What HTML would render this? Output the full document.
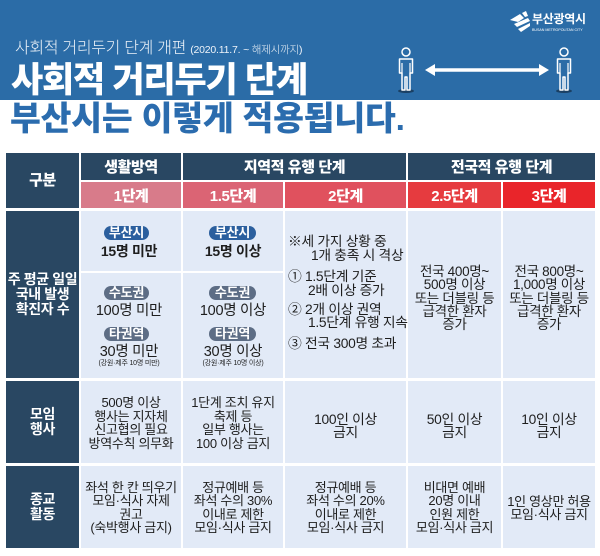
<!DOCTYPE html>
<html><head><meta charset="utf-8">
<style>
*{margin:0;padding:0;box-sizing:border-box}
body{width:600px;height:556px;overflow:hidden;background:#fff;position:relative;font-family:"Liberation Sans","Noto Sans CJK KR",sans-serif;}
.a{position:absolute}
.band{left:0;top:0;width:600px;height:100px;background:#2b6ca7}
.nv{background:#294762}
.lt{background:#e2eaf7}
.hd{color:#fff;font-weight:900;font-size:15px;letter-spacing:-0.4px;display:flex;align-items:center;justify-content:center;text-align:center}
.lbl{color:#fff;font-weight:700;font-size:14px;line-height:15px;display:flex;align-items:center;justify-content:center;text-align:center;letter-spacing:-0.4px}
.t{color:#1e1e1e;font-size:13px;text-align:center;letter-spacing:-0.3px;white-space:nowrap}
.pill{height:14px;border-radius:7px;color:#fff;font-size:13px;line-height:14px;text-align:center;font-weight:700;letter-spacing:-0.2px}
</style></head><body>
<div class="a band"></div>

<!-- subtitle -->
<div class="a" style="left:15px;top:41px;color:#eef3f9;font-size:16px;line-height:16px;font-weight:300;white-space:nowrap;letter-spacing:-0.3px">사회적 거리두기 단계 개편 <span style="font-size:10.5px;letter-spacing:-0.2px">(2020.11.7. ~ 해제시까지)</span></div>
<!-- big titles -->
<div class="a" style="left:11px;top:63px;color:#fff;font-size:35px;line-height:35px;font-weight:900;white-space:nowrap;letter-spacing:-1.2px">사회적 거리두기 단계</div>
<div class="a" style="left:10px;top:103px;color:#2b6cae;font-size:33.5px;line-height:34px;font-weight:900;white-space:nowrap;letter-spacing:-0.2px">부산시는 이렇게 적용됩니다.</div>

<!-- logo -->
<svg class="a" style="left:508px;top:10px" width="90" height="26" viewBox="0 0 90 26">
  <polygon points="2,10 12,4 16,8 10,12" fill="#fff"/>
  <polygon points="6,14 20,8 22,11 9,17" fill="#fff"/>
  <polygon points="10,19 22,13 22,16 13,22" fill="#fff"/>
  <polygon points="14,3 18,1 20,6 17,7" fill="#fff"/>
  <text x="24" y="13" fill="#fff" font-size="12" font-weight="700" font-family="Liberation Sans, Noto Sans CJK KR, sans-serif" letter-spacing="-0.3">부산광역시</text>
  <text x="24" y="21" fill="#fff" font-size="3.6" font-family="Liberation Sans, sans-serif">BUSAN METROPOLITAN CITY</text>
</svg>

<!-- people & arrow -->
<svg class="a" style="left:380px;top:40px" width="220" height="60" viewBox="0 0 220 60">
  <defs>
    <g id="p">
      <ellipse cx="10" cy="51" rx="8" ry="2" fill="#16324d" opacity="0.75"/>
      <circle cx="10" cy="12" r="4" fill="none" stroke="#fff" stroke-width="1.5"/>
      <path d="M3.5,19 H16.5 V33 H14 V50 H11 V37 H9 V50 H6 V33 H3.5 Z" fill="none" stroke="#fff" stroke-width="1.5" stroke-linejoin="round"/>
      <path d="M6,23 V33 M14,23 V33" stroke="#fff" stroke-width="1.2"/>
    </g>
  </defs>
  <use href="#p" x="16" y="0"/>
  <use href="#p" x="174" y="0"/>
  <line x1="52" y1="30" x2="162" y2="30" stroke="#fff" stroke-width="3.5"/>
  <polygon points="45,30 55,24 55,36" fill="#fff"/>
  <polygon points="169,30 159,24 159,36" fill="#fff"/>
</svg>

<!-- TABLE header -->
<div class="a nv lbl" style="left:6px;top:153px;width:73px;height:55px;font-size:15px;font-weight:900">구분</div>
<div class="a nv hd" style="left:81px;top:153px;width:100px;height:27px">생활방역</div>
<div class="a nv hd" style="left:183px;top:153px;width:223px;height:27px">지역적 유행 단계</div>
<div class="a nv hd" style="left:408px;top:153px;width:187px;height:27px">전국적 유행 단계</div>

<div class="a hd" style="left:81px;top:182px;width:100px;height:26px;background:#d87b8a">1단계</div>
<div class="a hd" style="left:183px;top:182px;width:100px;height:26px;background:#db6474">1.5단계</div>
<div class="a hd" style="left:285px;top:182px;width:121px;height:26px;background:#e0515e">2단계</div>
<div class="a hd" style="left:408px;top:182px;width:93px;height:26px;background:#e63b3f">2.5단계</div>
<div class="a hd" style="left:503px;top:182px;width:92px;height:26px;background:#e9252a">3단계</div>

<!-- Row 1 -->
<div class="a nv lbl" style="left:6px;top:211px;width:73px;height:167px">주 평균 일일<br>국내 발생<br>확진자 수</div>
<div class="a lt" style="left:81px;top:211px;width:100px;height:60px"></div>
<div class="a lt" style="left:81px;top:273px;width:100px;height:105px"></div>
<div class="a lt" style="left:183px;top:211px;width:100px;height:60px"></div>
<div class="a lt" style="left:183px;top:273px;width:100px;height:105px"></div>
<div class="a lt" style="left:285px;top:211px;width:121px;height:167px"></div>
<div class="a lt" style="left:408px;top:211px;width:93px;height:167px"></div>
<div class="a lt" style="left:503px;top:211px;width:92px;height:167px"></div>

<!-- col1 row1 content -->
<div class="a pill" style="left:104px;top:226px;width:45px;background:#2b5f9e">부산시</div>
<div class="a t" style="left:81px;top:243px;width:96px;font-size:14px;line-height:16px;font-weight:700">15명 미만</div>
<div class="a pill" style="left:104px;top:286px;width:45px;background:#5d6d85">수도권</div>
<div class="a t" style="left:81px;top:303px;width:96px;font-size:14.5px;line-height:16px">100명 미만</div>
<div class="a pill" style="left:104px;top:327px;width:45px;background:#5d6d85">타권역</div>
<div class="a t" style="left:81px;top:344px;width:96px;font-size:14.5px;line-height:16px">30명 미만</div>
<div class="a t" style="left:81px;top:360px;width:96px;font-size:7px;line-height:8px;letter-spacing:-0.2px">(강원·제주 10명 미만)</div>

<!-- col2 row1 content -->
<div class="a pill" style="left:209px;top:226px;width:47px;background:#2b5f9e">부산시</div>
<div class="a t" style="left:183px;top:243px;width:100px;font-size:14px;line-height:16px;font-weight:700">15명 이상</div>
<div class="a pill" style="left:209px;top:286px;width:47px;background:#5d6d85">수도권</div>
<div class="a t" style="left:183px;top:303px;width:100px;font-size:14.5px;line-height:16px">100명 이상</div>
<div class="a pill" style="left:209px;top:327px;width:47px;background:#5d6d85">타권역</div>
<div class="a t" style="left:183px;top:344px;width:100px;font-size:14.5px;line-height:16px">30명 이상</div>
<div class="a t" style="left:183px;top:360px;width:100px;font-size:7px;line-height:8px;letter-spacing:-0.2px">(강원·제주 10명 이상)</div>

<!-- col3 row1 list -->
<div class="a t" style="left:288px;top:235px;text-align:left;line-height:14px;font-size:13.8px">※세 가지 상황 중</div>
<div class="a t" style="left:311px;top:249px;text-align:left;line-height:14px;font-size:13.8px">1개 충족 시 격상</div>
<div class="a t" style="left:288px;top:270px;text-align:left;line-height:14px;font-size:13.8px">① 1.5단계 기준</div>
<div class="a t" style="left:308px;top:284px;text-align:left;line-height:14px;font-size:13.8px">2배 이상 증가</div>
<div class="a t" style="left:288px;top:303px;text-align:left;line-height:14px;font-size:13.8px">② 2개 이상 권역</div>
<div class="a t" style="left:308px;top:316px;text-align:left;line-height:14px;font-size:13.8px">1.5단계 유행 지속</div>
<div class="a t" style="left:288px;top:337px;text-align:left;line-height:14px;font-size:13.8px">③ 전국 300명 초과</div>

<!-- col4/5 row1 -->
<div class="a t" style="left:408px;top:265px;width:93px;line-height:13.3px;font-size:13.5px">전국 400명~<br>500명 이상<br>또는 더블링 등<br>급격한 환자<br>증가</div>
<div class="a t" style="left:503px;top:265px;width:92px;line-height:13.3px;font-size:13.5px">전국 800명~<br>1,000명 이상<br>또는 더블링 등<br>급격한 환자<br>증가</div>

<!-- Row 2 -->
<div class="a nv lbl" style="left:6px;top:381px;width:73px;height:82px">모임<br>행사</div>
<div class="a lt" style="left:81px;top:381px;width:100px;height:82px"></div>
<div class="a lt" style="left:183px;top:381px;width:100px;height:82px"></div>
<div class="a lt" style="left:285px;top:381px;width:121px;height:82px"></div>
<div class="a lt" style="left:408px;top:381px;width:93px;height:82px"></div>
<div class="a lt" style="left:503px;top:381px;width:92px;height:82px"></div>
<div class="a t" style="left:81px;top:396px;width:100px;line-height:13.5px">500명 이상<br>행사는 지자체<br>신고협의 필요<br>방역수칙 의무화</div>
<div class="a t" style="left:183px;top:396px;width:100px;line-height:13.5px">1단계 조치 유지<br>축제 등<br>일부 행사는<br>100 이상 금지</div>
<div class="a t" style="left:285px;top:413px;width:121px;line-height:13px;font-size:13.8px">100인 이상<br>금지</div>
<div class="a t" style="left:408px;top:413px;width:93px;line-height:13px;font-size:13.8px">50인 이상<br>금지</div>
<div class="a t" style="left:503px;top:413px;width:92px;line-height:13px;font-size:13.8px">10인 이상<br>금지</div>

<!-- Row 3 -->
<div class="a nv lbl" style="left:6px;top:466px;width:73px;height:82px">종교<br>활동</div>
<div class="a lt" style="left:81px;top:466px;width:100px;height:82px"></div>
<div class="a lt" style="left:183px;top:466px;width:100px;height:82px"></div>
<div class="a lt" style="left:285px;top:466px;width:121px;height:82px"></div>
<div class="a lt" style="left:408px;top:466px;width:93px;height:82px"></div>
<div class="a lt" style="left:503px;top:466px;width:92px;height:82px"></div>
<div class="a t" style="left:81px;top:481px;width:100px;line-height:13.4px">좌석 한 칸 띄우기<br>모임·식사 자제<br>권고<br>(숙박행사 금지)</div>
<div class="a t" style="left:183px;top:481px;width:100px;line-height:13.4px">정규예배 등<br>좌석 수의 30%<br>이내로 제한<br>모임·식사 금지</div>
<div class="a t" style="left:285px;top:481px;width:121px;line-height:13.4px">정규예배 등<br>좌석 수의 20%<br>이내로 제한<br>모임·식사 금지</div>
<div class="a t" style="left:408px;top:481px;width:93px;line-height:13.4px">비대면 예배<br>20명 이내<br>인원 제한<br>모임·식사 금지</div>
<div class="a t" style="left:503px;top:495px;width:92px;line-height:13.4px">1인 영상만 허용<br>모임·식사 금지</div>
</body></html>
